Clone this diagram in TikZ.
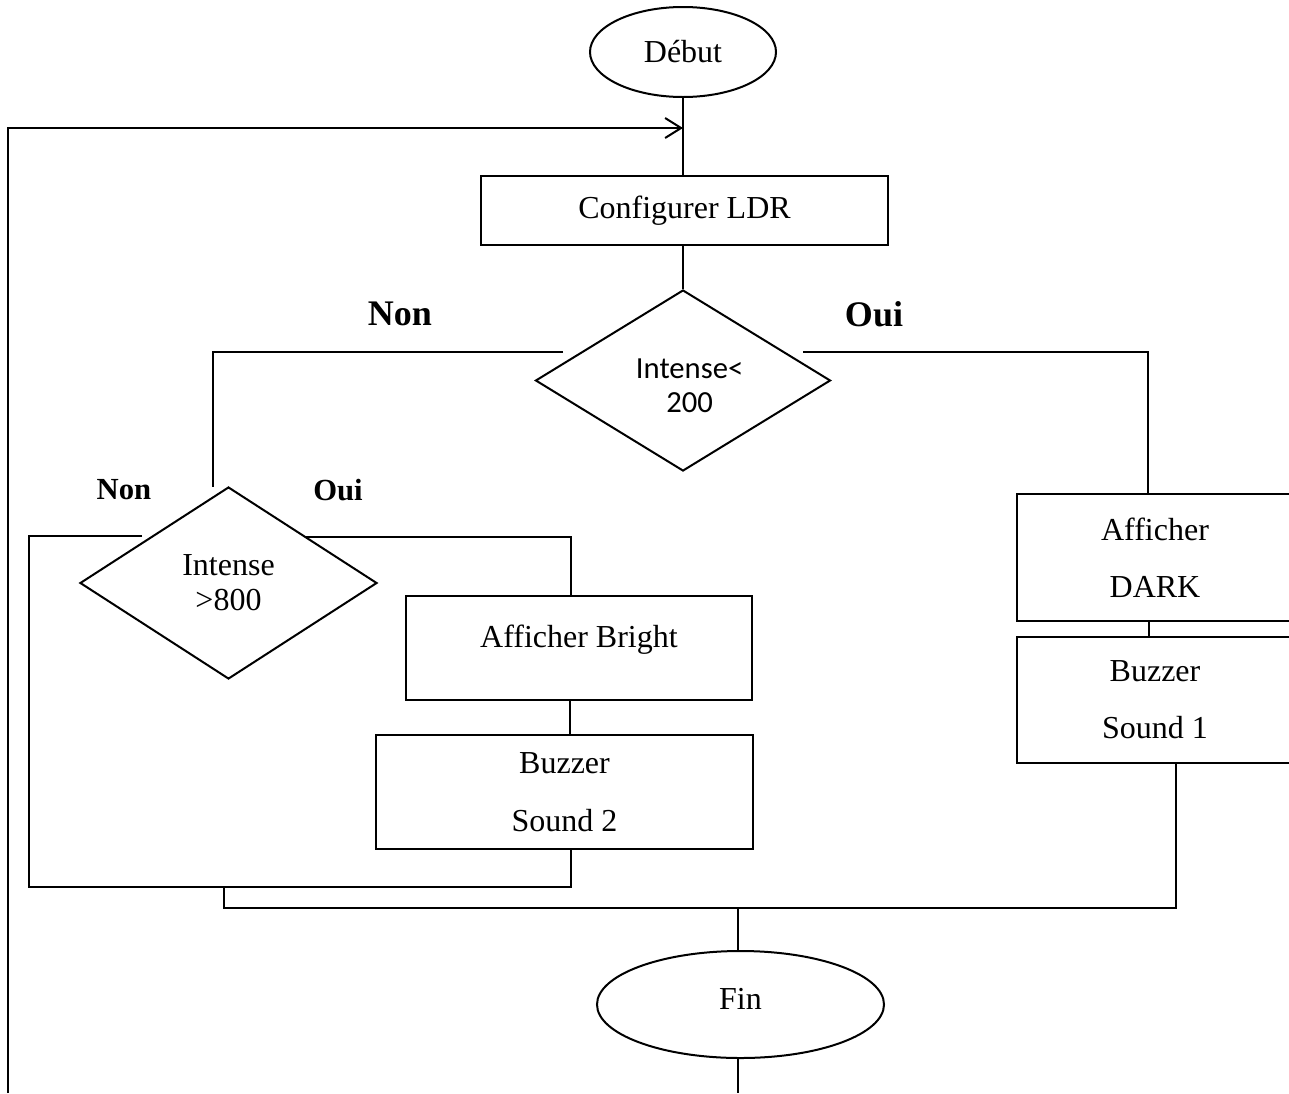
\documentclass[tikz,border=0pt]{standalone}
\usepackage{fontspec}
\setmainfont{Liberation Serif}
\newfontfamily\calib{Carlito}
\usetikzlibrary{shapes.geometric,arrows.meta,calc}
% lift or lower a text line without changing its box
\newcommand{\shiftline}[2]{\raisebox{#1}[\height][\depth]{#2}}
\begin{document}
\begin{tikzpicture}[x=0.75pt,y=-0.75pt,
  line width=1.5pt,
  every node/.style={inner sep=0pt},
  txt/.style={font=\fontsize{24}{43}\selectfont, align=center},
  term/.style={draw, ellipse, txt},
  proc/.style={draw, rectangle, txt},
  test/.style={draw, diamond, align=center},
  bigtag/.style={font=\bfseries\fontsize{27}{30}\selectfont},
  smalltag/.style={font=\bfseries\fontsize{23}{26}\selectfont}]
\useasboundingbox (0,0) rectangle (1289,1093);

% shapes
\node[term, minimum width=139.5pt, minimum height=67.5pt] (debut) at (683,52) {Début};
\node[proc, minimum width=305.25pt, minimum height=51.75pt] (config) at (684.5,210.5) {Configurer LDR};
\node[test, minimum width=221.25pt, minimum height=135.75pt,
      font=\calib\fontsize{23}{25}\selectfont] (d1) at (683,380.5)
      {\shiftline{-4pt}{\hspace*{10pt}Intense<}\\\shiftline{-4pt}{\hspace*{10pt}200}};
\node[test, minimum width=222.75pt, minimum height=144pt,
      font=\fontsize{24}{26}\selectfont] (d2) at (228.5,583) {Intense\\>800};
\node[proc, minimum width=259.5pt, minimum height=78pt] (bright) at (579,648) {\shiftline{6pt}{Afficher Bright}};
\node[proc, minimum width=282.75pt, minimum height=85.5pt] (sound2) at (564.5,792) {Buzzer\\Sound 2};
\node[proc, minimum width=207pt, minimum height=95.25pt] (dark) at (1155,557.5) {Afficher\\DARK};
\node[proc, minimum width=207pt, minimum height=94.5pt] (sound1) at (1155,700) {Buzzer\\Sound 1};
\node[term, minimum width=215.25pt, minimum height=80.25pt] (fin) at (740.5,1004.5) {\shiftline{4.5pt}{Fin}};

% branch labels
\node[bigtag] (non1) at (400,314) {Non};
\node[bigtag] (oui1) at (874,314) {Oui};
\node[smalltag] (non2) at (124,490) {Non};
\node[smalltag] (oui2) at (338,490) {Oui};

% free ends of the connectors
\coordinate (loopfoot) at (8,1093);
\coordinate (loopin) at (683,128);
\coordinate (d1l) at (563,352);
\coordinate (d1r) at (803,352);
\coordinate (d2top) at (213,487);
\coordinate (d2l) at (142,536);
\coordinate (d2r) at (306,537);
\coordinate (inner) at (29,887);
\coordinate (merge) at (224,887);
\coordinate (bottomjoin) at (224,908);
\coordinate (pagefoot) at (738,1093);

% main flow
\draw (debut.south) -- (debut.south |- config.north);
\draw[-{Straight Barb[length=12pt,width=15pt]}] (loopfoot) |- (loopin);
\draw (config.south -| d1.north) -- (d1.north);

% first test
\draw (d1l) -| (d2top);
\draw (d1r) -| ($(dark.north)+(-7,0)$);

% second test
\draw (d2r) -| ($(bright.north)+(-8,0)$);
\draw ($(bright.south)+(-9,0)$) -- ($(sound2.north)+(5.5,0)$);
\draw (d2l) -| (inner) -| ($(sound2.south)+(6.5,0)$);

% right column
\draw ($(dark.south)+(-6,0)$) -- ($(sound1.north)+(-6,0)$);
\draw ($(sound1.south)+(21,0)$) |- (bottomjoin) -- (merge);

% end
\draw (fin.north -| pagefoot) -- (pagefoot |- bottomjoin);
\draw (fin.south -| pagefoot) -- (pagefoot);
\end{tikzpicture}
\end{document}
